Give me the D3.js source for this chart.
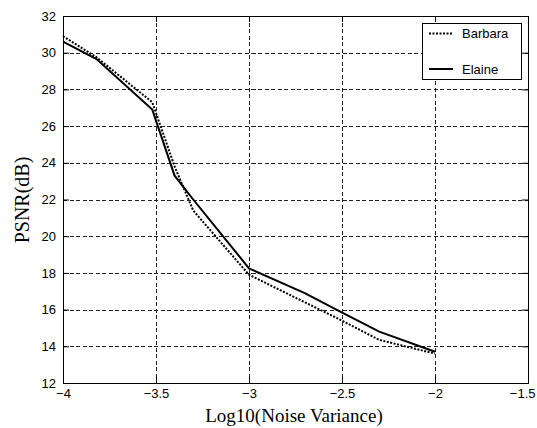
<!DOCTYPE html>
<html><head><meta charset="utf-8">
<script src="https://cdn.jsdelivr.net/npm/d3@7"></script>
<style>html,body{margin:0;padding:0;background:#fff;}</style>
</head><body>
<script>
const xValues = [-4, -3.82, -3.52, -3.4, -3.3, -3, -2.7, -2.52, -2.3, -2];
const barbara = [30.9, 29.75, 27.3, 23.8, 21.4, 17.9, 16.4, 15.5, 14.35, 13.6];
const elaine  = [30.6, 29.65, 26.9, 23.3, 22.0, 18.25, 16.9, 15.95, 14.8, 13.7];
const xTicks = [-4, -3.5, -3, -2.5, -2, -1.5];
const yTicks = [12, 14, 16, 18, 20, 22, 24, 26, 28, 30, 32];
const seriesNames = ["Barbara", "Elaine"];

const W = 537, H = 428;
const L = 63, T = 16, R = 528, B = 383;
const svg = d3.select("body").append("svg").attr("width", W).attr("height", H)
  .style("background", "#fff");
svg.append("rect").attr("width", W).attr("height", H).attr("fill", "#fff");

const x = d3.scaleLinear().domain([-4, -1.5]).range([L, R]);
const y = d3.scaleLinear().domain([12, 32]).range([B, T]);

// grid
const grid = svg.append("g").attr("stroke", "#222").attr("stroke-width", 1)
  .attr("stroke-dasharray", "4,2.5").attr("shape-rendering", "crispEdges");
xTicks.slice(1, -1).forEach(v => grid.append("line")
  .attr("x1", Math.round(x(v)) + 0.5).attr("x2", Math.round(x(v)) + 0.5)
  .attr("y1", T).attr("y2", B));
yTicks.slice(1, -1).forEach(v => grid.append("line")
  .attr("y1", Math.round(y(v)) + 0.5).attr("y2", Math.round(y(v)) + 0.5)
  .attr("x1", L).attr("x2", R));

// axes (ticks inward)
const tickFont = "'Liberation Sans', Arial, sans-serif";
const xb = svg.append("g").attr("transform", `translate(0,${B})`)
  .call(d3.axisBottom(x).tickValues(xTicks).tickSize(-6).tickPadding(6).tickFormat(d3.format("")));
const yl = svg.append("g").attr("transform", `translate(${L},0)`)
  .call(d3.axisLeft(y).tickValues(yTicks).tickSize(-6).tickPadding(7).tickFormat(d3.format("")));
const xt = svg.append("g").attr("transform", `translate(0,${T})`)
  .call(d3.axisTop(x).tickValues(xTicks).tickSize(-6).tickFormat(""));
const yr = svg.append("g").attr("transform", `translate(${R},0)`)
  .call(d3.axisRight(y).tickValues(yTicks).tickSize(-6).tickFormat(""));
[xb, yl, xt, yr].forEach(g => {
  g.selectAll("path.domain").attr("stroke", "#000").attr("stroke-width", 1);
  g.selectAll("line").attr("stroke", "#000");
  g.selectAll("text").attr("font-family", tickFont).attr("font-size", 13).attr("fill", "#000");
});
// keep the last x label inside the picture
xb.selectAll(".tick text").filter(d => d === -1.5)
  .attr("text-anchor", "end").attr("x", W - R - 2);

// lines
const line = d3.line().x((d, i) => x(xValues[i])).y(d => y(d));
svg.append("path").datum(elaine).attr("d", line)
  .attr("fill", "none").attr("stroke", "#000").attr("stroke-width", 2);
svg.append("path").datum(barbara).attr("d", line)
  .attr("fill", "none").attr("stroke", "#000").attr("stroke-width", 2)
  .attr("stroke-dasharray", "2,1.5");

// legend
const lg = svg.append("g");
lg.append("rect").attr("x", 422.5).attr("y", 23.5).attr("width", 99).attr("height", 56)
  .attr("fill", "#fff").attr("stroke", "#000").attr("stroke-width", 1);
const legY = [33.5, 69];
seriesNames.forEach((n, i) => {
  lg.append("line").attr("x1", 429).attr("x2", 453).attr("y1", legY[i]).attr("y2", legY[i])
    .attr("stroke", "#000").attr("stroke-width", 2)
    .attr("stroke-dasharray", i === 0 ? "2,1.5" : null);
  lg.append("text").attr("x", 462).attr("y", legY[i] + 4.5).text(n)
    .attr("font-family", tickFont).attr("font-size", 13).attr("fill", "#000");
});

// axis titles
svg.append("text").attr("x", 294).attr("y", 422).attr("text-anchor", "middle")
  .attr("font-family", "'Liberation Serif', 'Times New Roman', serif").attr("font-size", 19)
  .text("Log10(Noise Variance)");
svg.append("text").attr("transform", "translate(29,200) rotate(-90)").attr("text-anchor", "middle")
  .attr("font-family", "'Liberation Serif', 'Times New Roman', serif").attr("font-size", 20)
  .text("PSNR(dB)");
</script>
</body></html>
